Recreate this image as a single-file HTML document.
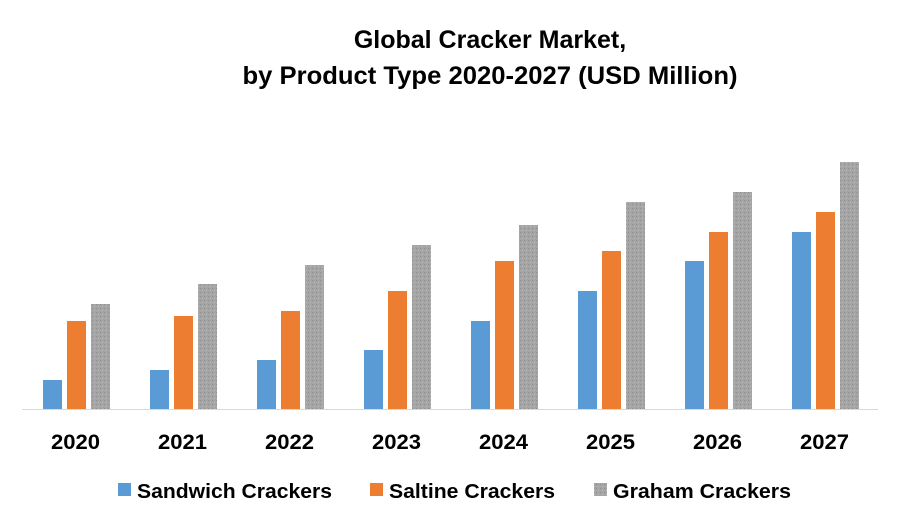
<!DOCTYPE html>
<html><head><meta charset="utf-8"><style>
body{margin:0;background:#fff;width:900px;height:525px;overflow:hidden}
text{font-family:"Liberation Sans",Calibri,sans-serif}
</style></head><body>
<svg id="c" width="900" height="525">
<defs><pattern id="hatch" width="4" height="4" patternUnits="userSpaceOnUse">
<rect width="4" height="4" fill="#a5a5a5"/><rect width="1" height="1" fill="#8f8f8f"/><rect x="2" y="2" width="1" height="1" fill="#bcbcbc"/></pattern></defs>
<text x="490" y="48" text-anchor="middle" font-size="25" font-weight="bold" fill="#000">Global Cracker Market,</text>
<text x="490" y="84" text-anchor="middle" font-size="25" font-weight="bold" fill="#000" textLength="495" lengthAdjust="spacingAndGlyphs">by Product Type 2020-2027 (USD Million)</text>
<line x1="22" y1="409.5" x2="878" y2="409.5" stroke="#d9d9d9" stroke-width="1"/>
<g id="bars"></g><g id="labels"></g>
<g>
<rect x="118" y="483" width="13" height="13" fill="#5b9bd5"/>
<text x="137" y="498" font-size="20" font-weight="bold" textLength="195" lengthAdjust="spacingAndGlyphs">Sandwich Crackers</text>
<rect x="370" y="483" width="13" height="13" fill="#ed7d31"/>
<text x="389" y="498" font-size="20" font-weight="bold" textLength="166" lengthAdjust="spacingAndGlyphs">Saltine Crackers</text>
<rect x="594" y="483" width="13" height="13" fill="url(#hatch)"/>
<text x="613" y="498" font-size="20" font-weight="bold" textLength="178" lengthAdjust="spacingAndGlyphs">Graham Crackers</text>
</g>
</svg>
<script>
const categories=["2020","2021","2022","2023","2024","2025","2026","2027"];
const sandwich=[29,39,49,59,88,118,148,177];
const saltine=[88,93,98,118,148,158,177,197];
const graham=[105,125,144,164,184,207,217,247];
const ns="http://www.w3.org/2000/svg";
const x0=22,gw=107,base=409,bw=19;
function y(v){return base-v;}
const series=[[sandwich,"#5b9bd5","sandwich",21],[saltine,"#ed7d31","saltine",45],[graham,"url(#hatch)","graham",69]];
const g=document.getElementById("bars"),lg=document.getElementById("labels");
categories.forEach((c,i)=>{
 series.forEach(s=>{
  const r=document.createElementNS(ns,"rect");
  r.setAttribute("x",x0+i*gw+s[3]);r.setAttribute("y",y(s[0][i]));
  r.setAttribute("width",bw);r.setAttribute("height",s[0][i]);r.setAttribute("fill",s[1]);
  
  
  g.appendChild(r);
 });
 const t=document.createElementNS(ns,"text");
 t.setAttribute("x",x0+i*gw+gw/2);t.setAttribute("y",449);t.setAttribute("text-anchor","middle");
 t.setAttribute("font-size","21");t.setAttribute("font-weight","bold");t.textContent=c;
 t.setAttribute("textLength","49");t.setAttribute("lengthAdjust","spacingAndGlyphs");
 
 
 lg.appendChild(t);
});
</script>
</body></html>
